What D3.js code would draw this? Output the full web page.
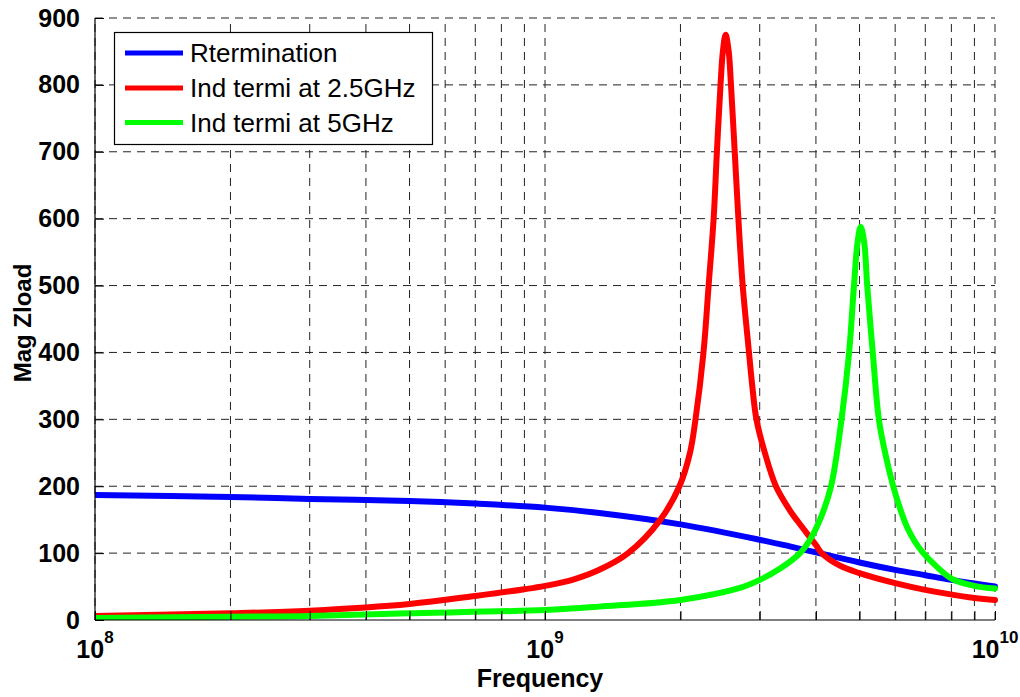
<!DOCTYPE html>
<html>
<head>
<meta charset="utf-8">
<script src="https://cdn.jsdelivr.net/npm/d3@7/dist/d3.min.js"></script>
<style>
  html, body { margin: 0; padding: 0; background: #fff; }
  svg { display: block; }
  text { font-family: "Liberation Sans", Arial, Helvetica, sans-serif; }
</style>
</head>
<body>
<svg id="chart" width="1020" height="697"></svg>
<script>
// Load impedance magnitude vs frequency (Hz) for three terminations
const rtermFreq = [1e8, 2e8, 3e8, 5e8, 7e8, 1e9, 1.32e9, 2e9, 3e9, 3.5e9, 4e9, 5e9, 6e9, 7e9, 8e9, 1e10];
const rtermMag  = [187, 184, 181, 178, 174, 168, 160, 143, 120, 110, 101, 86, 75, 67, 60, 50];

const ind25Freq = [1e8, 2e8, 3e8, 5e8, 7e8, 9e8, 1e9, 1.15e9, 1.32e9, 1.53e9, 1.8e9, 1.99e9, 2.1e9, 2.16e9, 2.25e9, 2.31e9, 2.37e9, 2.41e9, 2.455e9, 2.485e9, 2.52e9, 2.56e9, 2.59e9, 2.64e9, 2.69e9, 2.75e9, 2.84e9, 2.888e9, 2.95e9, 3.08e9, 3.26e9, 3.5e9, 3.63e9, 4e9, 4.12e9, 4.5e9, 5e9, 6e9, 7e9, 9e9, 1e10];
const ind25Mag  = [6, 10, 14, 24, 36, 46, 51, 60, 75, 100, 149, 200, 250, 300, 400, 500, 600, 700, 800, 850, 875, 850, 800, 700, 600, 500, 400, 350, 300, 250, 200, 164, 149, 112, 100, 82, 70, 55, 45, 33, 30];

const ind5Freq = [1e8, 2e8, 3e8, 5e8, 1e9, 1.32e9, 2e9, 2.71e9, 3e9, 3.33e9, 3.687e9, 3.88e9, 4.085e9, 4.322e9, 4.56e9, 4.74e9, 4.86e9, 4.95e9, 5.03e9, 5.12e9, 5.2e9, 5.35e9, 5.52e9, 5.7e9, 5.94e9, 6.15e9, 6.375e9, 6.64e9, 6.93e9, 7.36e9, 8e9, 9e9, 1e10];
const ind5Mag  = [3, 5, 6, 10, 15, 20, 30, 48, 60, 77, 100, 120, 150, 200, 300, 400, 500, 565, 588, 565, 500, 400, 300, 250, 200, 167, 139, 117, 100, 82, 62, 51, 47];

const seriesNames  = ["Rtermination", "Ind termi at 2.5GHz", "Ind termi at 5GHz"];
const seriesColors = ["#0000ff", "#ff0000", "#00ff00"];

const yTicks = [0, 100, 200, 300, 400, 500, 600, 700, 800, 900];
const xMajor = [1e8, 1e9, 1e10];
const xMajorExp = ["8", "9", "10"];
const xMinorMult = [2, 3, 4, 5, 6, 7, 8, 9];

const series = [
  rtermFreq.map((f, i) => [f, rtermMag[i]]),
  ind25Freq.map((f, i) => [f, ind25Mag[i]]),
  ind5Freq.map((f, i) => [f, ind5Mag[i]])
];

const svg = d3.select("#chart");
const plot = { left: 95, right: 995, top: 18, bottom: 620 };

const x = d3.scaleLog().domain([1e8, 1e10]).range([plot.left, plot.right]);
const y = d3.scaleLinear().domain([0, 900]).range([plot.bottom, plot.top]);

const xMinor = [];
[1e8, 1e9].forEach(d => xMinorMult.forEach(m => xMinor.push(d * m)));
const xAll = xMajor.concat(xMinor).sort((a, b) => a - b);

// dashed grid
const grid = svg.append("g").attr("stroke", "#222").attr("stroke-width", 1)
  .attr("stroke-dasharray", "8,6").attr("fill", "none");
grid.selectAll("line.v").data(xAll).join("line").attr("class", "v")
  .attr("x1", d => x(d)).attr("x2", d => x(d))
  .attr("y1", plot.bottom).attr("y2", plot.top);
grid.selectAll("line.h").data(yTicks.slice(1)).join("line").attr("class", "h")
  .attr("x1", plot.left).attr("x2", plot.right)
  .attr("y1", d => y(d)).attr("y2", d => y(d));

// curves
svg.append("clipPath").attr("id", "plotclip").append("rect")
  .attr("x", plot.left).attr("y", plot.top - 4)
  .attr("width", plot.right - plot.left + 4).attr("height", plot.bottom - plot.top + 4);

const line = d3.line().x(d => x(d[0])).y(d => y(d[1])).curve(d3.curveCatmullRom.alpha(0.5));
svg.append("g").attr("clip-path", "url(#plotclip)")
  .selectAll("path").data(series).join("path")
  .attr("d", line)
  .attr("fill", "none")
  .attr("stroke", (d, i) => seriesColors[i])
  .attr("stroke-width", 6)
  .attr("stroke-linejoin", "round")
  .attr("stroke-linecap", "round");

// y axis
const yAxis = svg.append("g").attr("transform", `translate(${plot.left},0)`)
  .call(d3.axisLeft(y).tickValues(yTicks).tickSize(-9).tickPadding(15).tickFormat(d3.format("d")));
yAxis.select(".domain").attr("d", `M0,${plot.top}V${plot.bottom}`).attr("stroke", "#000").attr("stroke-width", 1.2);
yAxis.selectAll(".tick line").attr("stroke", "#000");
yAxis.selectAll(".tick text")
  .attr("font-size", 25).attr("font-weight", "bold").attr("fill", "#000")
  .attr("font-family", "'Liberation Sans', Arial, sans-serif");

// x axis
const xAxis = svg.append("g").attr("transform", `translate(0,${plot.bottom})`)
  .call(d3.axisBottom(x).tickValues(xAll).tickSize(-9).tickFormat(() => ""));
xAxis.select(".domain").attr("d", `M${plot.left},0H${plot.right}`).attr("stroke", "#000").attr("stroke-width", 1.2);
xAxis.selectAll(".tick line").attr("stroke", "#000");

// power-of-ten labels
const xl = svg.append("g");
xMajor.forEach((d, i) => {
  const t = xl.append("text")
    .attr("x", x(d)).attr("y", 658)
    .attr("text-anchor", "middle")
    .attr("font-weight", "bold").attr("fill", "#000");
  t.append("tspan").attr("font-size", 25).text("10");
  t.append("tspan").attr("font-size", 17).attr("dy", -15).text(xMajorExp[i]);
});

// axis titles
svg.append("text")
  .attr("x", (plot.left + plot.right) / 2 - 5).attr("y", 687)
  .attr("text-anchor", "middle").attr("font-size", 25).attr("font-weight", "bold")
  .text("Frequency");
svg.append("text")
  .attr("transform", "translate(31,323) rotate(-90)")
  .attr("text-anchor", "middle").attr("font-size", 24).attr("font-weight", "bold")
  .text("Mag Zload");

// legend
const lg = svg.append("g");
lg.append("rect").attr("x", 114.5).attr("y", 32.5).attr("width", 318).attr("height", 112)
  .attr("fill", "#fff").attr("stroke", "#000").attr("stroke-width", 1.2);
const rowY = [53, 88, 122.5];
seriesNames.forEach((name, i) => {
  lg.append("line").attr("x1", 125).attr("x2", 183).attr("y1", rowY[i]).attr("y2", rowY[i])
    .attr("stroke", seriesColors[i]).attr("stroke-width", 5);
  lg.append("text").attr("x", 190).attr("y", rowY[i] + 9)
    .attr("font-size", 26).attr("fill", "#000").text(name);
});
</script>
</body>
</html>
